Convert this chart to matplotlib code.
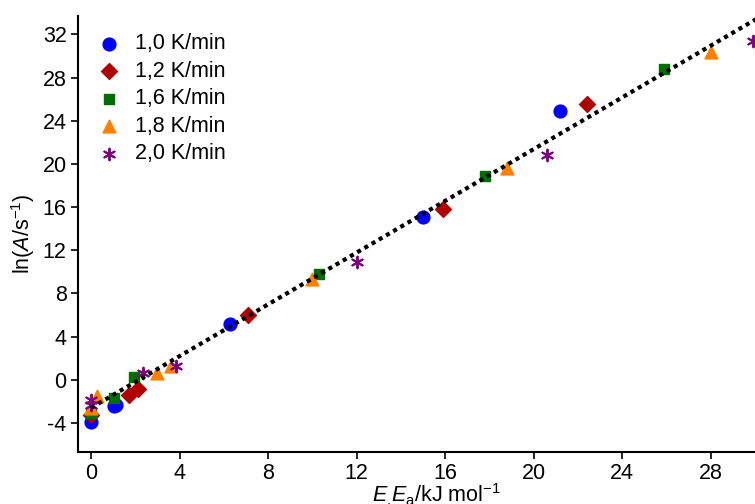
import numpy as np
import matplotlib.pyplot as plt

plt.rcParams['font.family'] = ['Liberation Sans', 'DejaVu Sans']
plt.rcParams['mathtext.fontset'] = 'custom'
plt.rcParams['mathtext.rm'] = 'Liberation Sans'
plt.rcParams['mathtext.it'] = 'Liberation Sans:italic'

# data
x_10 = [0.0, 1.05, 1.15, 6.3, 15.0, 21.2]
y_10 = [-3.9, -2.4, -2.3, 5.2, 15.1, 24.9]

x_12 = [0.0, 1.7, 2.1, 7.1, 15.9, 22.4]
y_12 = [-3.3, -1.4, -0.9, 6.0, 15.8, 25.6]

x_16 = [0.0, 1.05, 1.95, 10.3, 17.8, 25.9]
y_16 = [-3.1, -1.7, 0.3, 9.8, 18.9, 28.8]

x_18 = [0.0, 0.27, 3.0, 3.6, 10.0, 18.8, 28.0]
y_18 = [-2.6, -1.5, 0.65, 1.3, 9.35, 19.6, 30.4]

x_20 = [0.0, 0.0, 2.35, 3.85, 12.0, 20.6, 29.9]
y_20 = [-2.3, -1.9, 0.65, 1.3, 10.9, 20.8, 31.4]

fit_x = [0.0, 30.2]
fit_y = [-2.6, 33.6]

fs = 15.5

fig = plt.figure(figsize=(7.55, 5.04), dpi=100)
ax = fig.add_axes([0.103, 0.103, 0.897, 0.865])

ax.plot(fit_x, fit_y, color='black', lw=3, linestyle=(0, (1, 1)), zorder=3)

ax.scatter(x_10, y_10, s=85, marker='o', color='#0000ff', label='1,0 K/min', zorder=2)
ax.scatter(x_12, y_12, s=65, marker='D', color='#b00000', label='1,2 K/min', zorder=2)
ax.scatter(x_16, y_16, s=45, marker='s', color='#006f00', label='1,6 K/min', zorder=2)
ax.scatter(x_18, y_18, s=85, marker='^', color='#ff8000', label='1,8 K/min', zorder=2)
ax.scatter(x_20, y_20, s=70, marker=(6, 2, 0), color='#800080', lw=1.4, label='2,0 K/min', zorder=2)

ax.set_xlim(-0.6, 30.0)
ax.set_ylim(-6.7, 33.7)
ax.set_xticks(np.arange(0, 29, 4))
ax.set_yticks(np.arange(-4, 33, 4))
ax.set_yticklabels(['-4' if v < 0 else str(v) for v in range(-4, 33, 4)])

for s in ['top', 'right']:
    ax.spines[s].set_visible(False)
for s in ['left', 'bottom']:
    ax.spines[s].set_linewidth(1.5)
ax.tick_params(direction='out', length=5, width=1.2, labelsize=fs, pad=3)

ax.set_xlabel(r'$E_{,}E_{\mathrm{a}}$/kJ mol$^{-1}$', fontsize=fs, labelpad=0)
ax.xaxis.set_label_coords(0.53, -0.068)
ax.set_ylabel(r'ln($A$/s$^{-1}$)', fontsize=fs, labelpad=4)

ax.legend(loc='upper left', frameon=False, fontsize=fs, handletextpad=0.4,
          labelspacing=0.3, handlelength=1.6, borderaxespad=0.5,
          bbox_to_anchor=(-0.008, 1.005))

fig.savefig('out.png', dpi=100)
